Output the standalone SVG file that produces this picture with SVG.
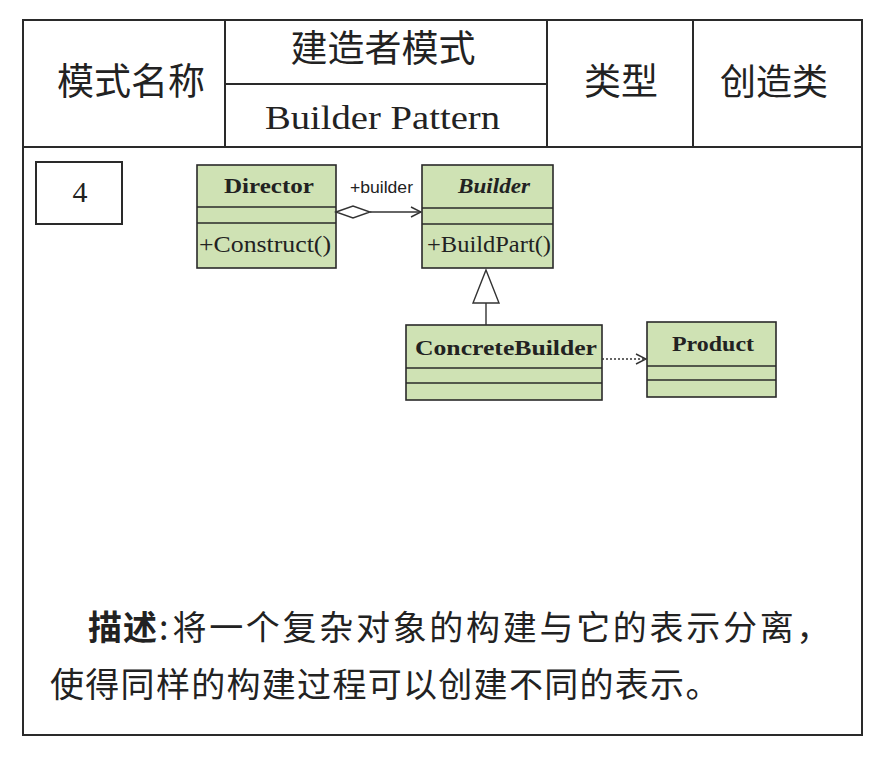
<svg xmlns="http://www.w3.org/2000/svg" width="882" height="758" viewBox="0 0 882 758">
<style>
.frame{fill:none;stroke:#2a2a2a;stroke-width:2}
.cls{fill:#cfe2b4;stroke:#2a2a2a;stroke-width:1.6}
.sep{stroke:#2a2a2a;stroke-width:1.6}
.cjk{font-family:"Noto Sans CJK SC","Noto Sans",sans-serif;fill:#222}
.ser{font-family:"Liberation Serif",serif;fill:#222}
.nm{font-family:"Liberation Serif",serif;font-weight:bold;font-size:22px;fill:#222}
.op{font-family:"Liberation Serif",serif;font-size:24px;fill:#222}
.conn{fill:none;stroke:#333;stroke-width:1.4}
</style>
<defs>
<marker id="open" viewBox="0 0 12 12" refX="11" refY="6" markerWidth="12" markerHeight="12" markerUnits="userSpaceOnUse" orient="auto">
<path d="M1,1 L11,6 L1,11" fill="none" stroke="#333" stroke-width="1.4"/>
</marker>
</defs>
<rect width="882" height="758" fill="#fff"/>
<g id="table">
<rect class="frame" x="23" y="20" width="839" height="715"/>
<line class="frame" x1="23" y1="147" x2="862" y2="147"/>
<line class="frame" x1="225" y1="20" x2="225" y2="147"/>
<line class="frame" x1="547" y1="20" x2="547" y2="147"/>
<line class="frame" x1="693" y1="20" x2="693" y2="147"/>
<line class="frame" x1="225" y1="84" x2="547" y2="84"/>
<text class="cjk" x="131" y="95" font-size="37" text-anchor="middle">模式名称</text>
<text class="cjk" x="383" y="62" font-size="37" text-anchor="middle">建造者模式</text>
<text class="ser" x="265" y="129" font-size="33" textLength="235" lengthAdjust="spacingAndGlyphs">Builder Pattern</text>
<text class="cjk" x="621" y="95" font-size="37" text-anchor="middle">类型</text>
<text class="cjk" x="774" y="95" font-size="36" text-anchor="middle">创造类</text>
</g>
<g id="num">
<rect class="frame" x="36" y="162" width="86" height="62"/>
<text class="ser" x="80" y="202" font-size="30" text-anchor="middle">4</text>
</g>
<g id="director">
<rect class="cls" x="197" y="165" width="139" height="103"/>
<line class="sep" x1="197" y1="207" x2="336" y2="207"/>
<line class="sep" x1="197" y1="223" x2="336" y2="223"/>
<text class="nm" x="224" y="193" textLength="90" lengthAdjust="spacingAndGlyphs">Director</text>
<text class="op" x="199" y="252" textLength="132" lengthAdjust="spacingAndGlyphs">+Construct()</text>
</g>
<g id="builder">
<rect class="cls" x="422" y="165" width="131" height="103"/>
<line class="sep" x1="422" y1="208" x2="553" y2="208"/>
<line class="sep" x1="422" y1="224" x2="553" y2="224"/>
<text class="nm" x="458" y="193" font-style="italic" textLength="72" lengthAdjust="spacingAndGlyphs">Builder</text>
<text class="op" x="427" y="252" textLength="124" lengthAdjust="spacingAndGlyphs">+BuildPart()</text>
</g>
<g id="concretebuilder">
<rect class="cls" x="406" y="325" width="196" height="75"/>
<line class="sep" x1="406" y1="368" x2="602" y2="368"/>
<line class="sep" x1="406" y1="383" x2="602" y2="383"/>
<text class="nm" x="415" y="355" textLength="182" lengthAdjust="spacingAndGlyphs">ConcreteBuilder</text>
</g>
<g id="product">
<rect class="cls" x="647" y="322" width="129" height="75"/>
<line class="sep" x1="647" y1="366" x2="776" y2="366"/>
<line class="sep" x1="647" y1="380" x2="776" y2="380"/>
<text class="nm" x="672" y="351" textLength="82" lengthAdjust="spacingAndGlyphs">Product</text>
</g>
<g id="connectors">
<path class="conn" d="M336,212 L353,206 L370,212 L353,218 Z" fill="#fff"/>
<line class="conn" x1="370" y1="212" x2="421" y2="212" marker-end="url(#open)"/>
<text x="350" y="193" font-family="Liberation Sans,sans-serif" font-size="17" fill="#222" textLength="63" lengthAdjust="spacingAndGlyphs">+builder</text>
<line class="conn" x1="486" y1="303" x2="486" y2="325" stroke="#6a4f6a"/>
<path class="conn" d="M486,270 L499,303 L473,303 Z" fill="#fff"/>
<line class="conn" x1="602" y1="359" x2="646" y2="359" stroke-dasharray="2,2" stroke="#777" marker-end="url(#open)"/>
</g>
<g id="desc">
<text class="cjk" x="88" y="640" font-size="34"><tspan font-weight="bold" letter-spacing="1">描述</tspan><tspan dx="1">:</tspan><tspan dx="4" letter-spacing="2.7">将一个复杂对象的构建与它的表示分离，</tspan></text>
<text class="cjk" x="50" y="697" font-size="34" letter-spacing="1.3">使得同样的构建过程可以创建不同的表示。</text>
</g>
</svg>
